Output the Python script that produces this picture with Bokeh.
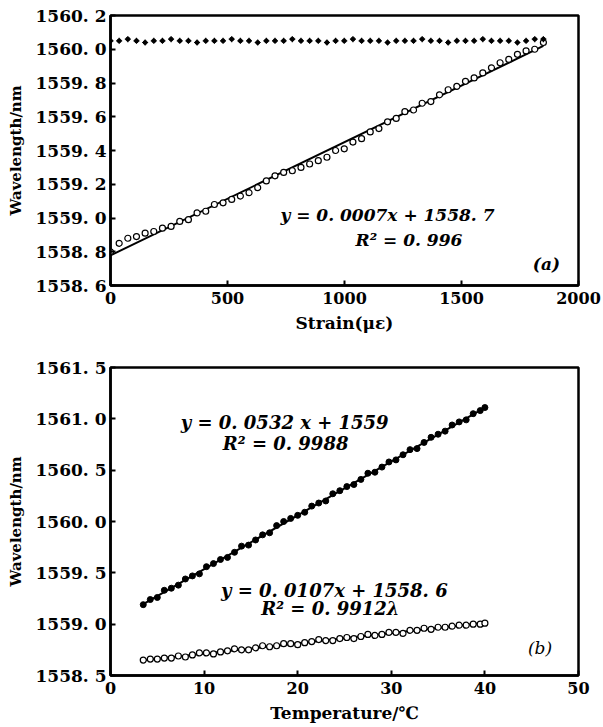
import numpy as np
from bokeh.plotting import figure
from bokeh.layouts import column
from bokeh.models import Range1d, FixedTicker
from bokeh.core.properties import value
from bokeh.embed import file_html
from bokeh.resources import INLINE

# ---------------- data: (a) strain ----------------
strain = [0, 37, 74, 111, 148, 185, 222, 259, 296, 333, 370, 407, 444, 481, 518,
          555, 592, 629, 666, 703, 740, 777, 814, 851, 888, 925, 962, 999, 1036,
          1073, 1110, 1147, 1184, 1221, 1258, 1295, 1332, 1369, 1406, 1443, 1480,
          1517, 1554, 1591, 1628, 1665, 1702, 1739, 1776, 1813, 1850]
wl_strain_fbg = [1558.80, 1558.85, 1558.88, 1558.89, 1558.91, 1558.92, 1558.94, 1558.95,
                 1558.98, 1558.99, 1559.03, 1559.04, 1559.08, 1559.09, 1559.11, 1559.13,
                 1559.15, 1559.18, 1559.22, 1559.25, 1559.27, 1559.28, 1559.30, 1559.32,
                 1559.34, 1559.36, 1559.40, 1559.41, 1559.45, 1559.47, 1559.51, 1559.53,
                 1559.57, 1559.59, 1559.63, 1559.64, 1559.68, 1559.69, 1559.73, 1559.76,
                 1559.78, 1559.81, 1559.83, 1559.86, 1559.89, 1559.92, 1559.94, 1559.97,
                 1559.99, 1560.00, 1560.04]
wl_strain_ref = [1560.05, 1560.05, 1560.06, 1560.05, 1560.04, 1560.05, 1560.05, 1560.06,
                 1560.05, 1560.05, 1560.04, 1560.05, 1560.05, 1560.05, 1560.06, 1560.05,
                 1560.05, 1560.04, 1560.05, 1560.05, 1560.05, 1560.06, 1560.05, 1560.05,
                 1560.05, 1560.04, 1560.05, 1560.05, 1560.06, 1560.05, 1560.05, 1560.05,
                 1560.04, 1560.05, 1560.05, 1560.05, 1560.06, 1560.05, 1560.05, 1560.04,
                 1560.05, 1560.05, 1560.05, 1560.06, 1560.05, 1560.05, 1560.05, 1560.04,
                 1560.05, 1560.06, 1560.06]

# ---------------- data: (b) temperature ----------------
temperature = [3.5, 4.25, 5.0, 5.75, 6.5, 7.25, 8.0, 8.75, 9.5, 10.25, 11.0, 11.75, 12.5,
               13.25, 14.0, 14.75, 15.5, 16.25, 17.0, 17.75, 18.5, 19.25, 20.0, 20.75,
               21.5, 22.25, 23.0, 23.75, 24.5, 25.25, 26.0, 26.75, 27.5, 28.25, 29.0,
               29.75, 30.5, 31.25, 32.0, 32.75, 33.5, 34.25, 35.0, 35.75, 36.5, 37.25,
               38.0, 38.75, 39.5, 40.0]
wl_temp_a = [1559.19, 1559.24, 1559.26, 1559.33, 1559.35, 1559.38, 1559.44, 1559.47,
             1559.49, 1559.56, 1559.59, 1559.63, 1559.65, 1559.70, 1559.76, 1559.77,
             1559.82, 1559.87, 1559.89, 1559.96, 1560.00, 1560.03, 1560.06, 1560.09,
             1560.15, 1560.18, 1560.20, 1560.27, 1560.30, 1560.34, 1560.36, 1560.41,
             1560.47, 1560.48, 1560.53, 1560.58, 1560.60, 1560.65, 1560.70, 1560.71,
             1560.77, 1560.82, 1560.85, 1560.88, 1560.94, 1560.97, 1560.99, 1561.05,
             1561.08, 1561.11]
wl_temp_b = [1558.65, 1558.66, 1558.66, 1558.67, 1558.67, 1558.69, 1558.68, 1558.70,
             1558.72, 1558.72, 1558.71, 1558.73, 1558.74, 1558.76, 1558.75, 1558.75,
             1558.77, 1558.79, 1558.78, 1558.79, 1558.81, 1558.81, 1558.80, 1558.82,
             1558.83, 1558.85, 1558.84, 1558.84, 1558.86, 1558.87, 1558.86, 1558.88,
             1558.90, 1558.89, 1558.90, 1558.92, 1558.92, 1558.91, 1558.94, 1558.94,
             1558.96, 1558.95, 1558.97, 1558.97, 1558.98, 1558.99, 1558.99, 1559.00,
             1559.00, 1559.01]

# ---------------- ticks ----------------
ticks_a_x = [0, 500, 1000, 1500, 2000]
ticks_a_y = [1558.6, 1558.8, 1559.0, 1559.2, 1559.4, 1559.6, 1559.8, 1560.0, 1560.2]
labels_a_y = ["1558. 6", "1558. 8", "1559. 0", "1559. 2", "1559. 4", "1559. 6",
              "1559. 8", "1560. 0", "1560. 2"]
ticks_b_x = [0, 10, 20, 30, 40, 50]
ticks_b_y = [1558.5, 1559.0, 1559.5, 1560.0, 1560.5, 1561.0, 1561.5]
labels_b_y = ["1558. 5", "1559. 0", "1559. 5", "1560. 0", "1560. 5", "1561. 0", "1561. 5"]

eq_a = "y = 0. 0007x + 1558. 7"
r2_a = "R² = 0. 996"
eq_b1 = "y = 0. 0532 x + 1559"
r2_b1 = "R² = 0. 9988"
eq_b2 = "y = 0. 0107x + 1558. 6"
r2_b2 = "R² = 0. 9912λ"

FONT = "DejaVu Serif"


def style(p, xt, yt, ylabels):
    p.xgrid.visible = False
    p.ygrid.visible = False
    p.outline_line_color = "black"
    p.outline_line_width = 2.5
    for ax in (p.xaxis[0], p.yaxis[0]):
        ax.axis_line_width = 2.5
        ax.axis_line_color = "black"
        ax.major_tick_in = 5
        ax.major_tick_out = 0
        ax.major_tick_line_width = 2
        ax.minor_tick_line_color = None
        ax.major_label_text_font = FONT
        ax.major_label_text_font_style = "bold"
        ax.major_label_text_color = "black"
        ax.axis_label_text_font = FONT
        ax.axis_label_text_font_style = "bold"
        ax.axis_label_text_color = "black"
    p.xaxis[0].major_label_text_font_size = "16px"
    p.yaxis[0].major_label_text_font_size = "17px"
    p.xaxis[0].axis_label_text_font_size = "17px"
    p.yaxis[0].axis_label_text_font_size = "15px"
    p.xaxis[0].ticker = FixedTicker(ticks=xt)
    p.yaxis[0].ticker = FixedTicker(ticks=yt)
    p.yaxis[0].major_label_overrides = {t: l for t, l in zip(yt, ylabels)}
    p.xaxis[0].major_label_standoff = 6
    p.yaxis[0].major_label_standoff = 4
    p.yaxis[0].axis_label_standoff = 8


# ---------------- figure (a) ----------------
p1 = figure(width=603, height=340, output_backend="svg", toolbar_location=None,
            x_range=Range1d(0, 2000), y_range=Range1d(1558.6, 1560.2),
            min_border_left=110, min_border_right=25, min_border_top=15, min_border_bottom=55)
style(p1, ticks_a_x, ticks_a_y, labels_a_y)
p1.xaxis[0].axis_label = "Strain(με)"
p1.yaxis[0].axis_label = "Wavelength/nm"
p1.xaxis[0].axis_label_standoff = 6

k, b = np.polyfit(strain, wl_strain_fbg, 1)
xs = np.array([min(strain), max(strain)])
p1.line(xs, k * xs + b, line_color="black", line_width=2)
p1.scatter(strain, wl_strain_fbg, marker="circle", size=6, fill_color="white",
           line_color="black", line_width=1.2)
p1.scatter(strain, wl_strain_ref, marker="circle", size=4, fill_color="black", line_color="black")
p1.scatter(strain, wl_strain_ref, marker="cross", size=6, line_color="black", line_width=1.2)

txt = dict(text_font=value(FONT), text_font_style="bold italic", text_font_size="17px",
           text_color="black", text_align="left", text_baseline="middle")
txt_b = dict(txt, text_font_size="18px")
p1.text(x=[726], y=[1559.02], text=[eq_a], **txt)
p1.text(x=[1047], y=[1558.87], text=[r2_a], **txt)
p1.text(x=[1805], y=[1558.73], text=["(a)"], **txt)

# ---------------- figure (b) ----------------
p2 = figure(width=603, height=386, output_backend="svg", toolbar_location=None,
            x_range=Range1d(0, 50), y_range=Range1d(1558.5, 1561.5),
            min_border_left=110, min_border_right=13, min_border_top=27, min_border_bottom=51)
style(p2, ticks_b_x, ticks_b_y, labels_b_y)
p2.xaxis[0].axis_label = "Temperature/℃"
p2.yaxis[0].axis_label = "Wavelength/nm"
p2.xaxis[0].axis_label_standoff = 6

k1, b1 = np.polyfit(temperature, wl_temp_a, 1)
k2, b2 = np.polyfit(temperature, wl_temp_b, 1)
xt = np.array([min(temperature), max(temperature)])
p2.line(xt, k1 * xt + b1, line_color="black", line_width=2)
p2.line(xt, k2 * xt + b2, line_color="black", line_width=2)
p2.scatter(temperature, wl_temp_a, marker="circle", size=6, fill_color="black", line_color="black")
p2.scatter(temperature, wl_temp_b, marker="circle", size=6, fill_color="white",
           line_color="black", line_width=1.2)

p2.text(x=[7.5], y=[1560.96], text=[eq_b1], **txt_b)
p2.text(x=[12.0], y=[1560.76], text=[r2_b1], **txt_b)
p2.text(x=[11.8], y=[1559.33], text=[eq_b2], **txt_b)
p2.text(x=[16.1], y=[1559.15], text=[r2_b2], **txt_b)
p2.text(x=[44.6], y=[1558.77], text=["(b)"], **dict(txt, text_font_style="italic"))

layout = column(p1, p2)
open("out.html", "w").write(file_html(layout, INLINE))
